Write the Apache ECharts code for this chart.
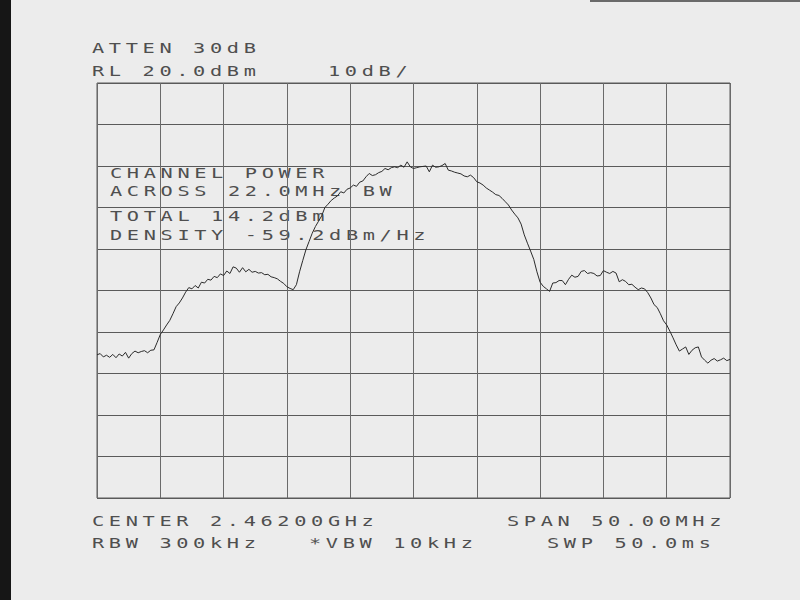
<!DOCTYPE html>
<html><head><meta charset="utf-8">
<script src="https://cdn.jsdelivr.net/npm/echarts@6/dist/echarts.min.js"></script>
<style>
html,body{margin:0;padding:0;background:#ececec;}
#chart{width:800px;height:600px;}
#chart text{letter-spacing:3.2px;}
</style></head><body><div id="chart"></div>
<script>
// Spectrum analyzer sweep: start 2437 MHz (center 2462 MHz, span 50 MHz), 0.25 MHz per point
const startMHz = 2437;
const spanMHz = 50;
const stepMHz = 0.25;
const refLevelDbm = 20;
const bottomDbm = -80;
const dbPerDiv = 10;
const mhzPerDiv = 5;
const levelsDbm = [
-45.5,-45.2,-46.0,-45.6,-46.1,-45.4,-46.2,-45.3,-45.8,-44.9,
-46.3,-45.2,-44.6,-45.0,-44.7,-44.5,-45.0,-44.4,-44.3,-42.5,
-40.6,-39.5,-38.3,-37.2,-35.6,-33.9,-33.0,-31.8,-30.4,-29.3,
-29.6,-28.8,-29.4,-28.0,-28.2,-27.3,-27.5,-26.6,-26.9,-26.0,
-26.4,-25.3,-25.9,-24.3,-24.6,-25.6,-24.5,-25.5,-24.9,-25.6,
-25.4,-25.8,-25.7,-26.2,-26.1,-26.7,-26.9,-27.2,-27.8,-28.3,
-29.1,-29.5,-29.8,-28.6,-25.5,-22.8,-20.2,-18.2,-16.2,-14.6,
-13.3,-12.0,-10.0,-9.2,-8.3,-7.7,-7.2,-6.2,-6.5,-5.6,
-5.3,-4.6,-4.9,-3.9,-3.6,-2.6,-1.8,-2.3,-2.1,-1.6,
-1.3,-0.6,-0.9,-0.4,-0.2,-0.4,0.2,-0.3,1.0,-0.2,
-0.6,-0.4,-0.2,-0.1,0.0,-1.4,0.2,-0.3,-0.2,0.1,
0.6,-1.0,-1.2,-1.5,-1.7,-1.9,-2.4,-2.6,-2.2,-2.8,
-3.8,-4.1,-4.6,-5.3,-5.8,-6.3,-6.9,-7.1,-7.8,-8.6,
-9.4,-10.6,-11.6,-12.5,-14.0,-16.6,-18.6,-20.5,-22.5,-25.5,
-28.0,-29.0,-29.6,-30.2,-28.2,-28.1,-27.6,-27.6,-28.6,-27.3,
-26.3,-26.8,-26.6,-25.4,-25.2,-25.9,-25.7,-25.9,-26.5,-26.4,
-25.2,-25.6,-25.9,-25.4,-25.8,-27.9,-27.4,-27.8,-28.6,-28.5,
-29.2,-29.8,-29.4,-29.6,-30.5,-31.8,-33.4,-34.1,-35.6,-37.3,
-38.3,-39.8,-41.4,-43.1,-44.6,-44.1,-43.6,-45.4,-44.4,-43.8,
-43.6,-46.0,-46.8,-47.5,-46.8,-46.4,-47.0,-46.7,-46.3,-46.9,-46.6
];
const headerLines = ['ATTEN 30dB', 'RL 20.0dBm', '10dB/'];
const channelLines = ['CHANNEL POWER', 'ACROSS 22.0MHz BW', 'TOTAL 14.2dBm', 'DENSITY -59.2dBm/Hz'];
const footerLines = ['CENTER 2.46200GHz', 'SPAN 50.00MHz', 'RBW 300kHz', '*VBW 10kHz', 'SWP 50.0ms'];

// x is frequency offset from start of sweep (MHz)
const seriesData = levelsDbm.map((v, i) => [i * stepMHz, v]);

const TXT = '#4f4f4f';
const FONT = '14px "DejaVu Sans Mono"';
function label(text, x, y) {
  return { type: 'text', x: x, y: y, scaleX: 1.45, silent: true,
    style: { text: text, fill: TXT, font: FONT, verticalAlign: 'middle', align: 'left' } };
}

const chart = echarts.init(document.getElementById('chart'), null, { renderer: 'svg' });
chart.setOption({
  animation: false,
  backgroundColor: '#ececec',
  grid: { left: 97, top: 83, width: 633, height: 415, show: true, borderColor: '#5a5a5a', borderWidth: 1, backgroundColor: 'transparent' },
  xAxis: { type: 'value', min: 0, max: spanMHz, interval: mhzPerDiv,
    axisLine: { show: false }, axisTick: { show: false }, axisLabel: { show: false },
    splitLine: { show: true, lineStyle: { color: '#6a6a6a', width: 1 } } },
  yAxis: { type: 'value', min: bottomDbm, max: refLevelDbm, interval: dbPerDiv,
    axisLine: { show: false }, axisTick: { show: false }, axisLabel: { show: false },
    splitLine: { show: true, lineStyle: { color: '#5a5a5a', width: 1 } } },
  series: [{ type: 'line', data: seriesData, showSymbol: false, symbol: 'none',
    lineStyle: { color: '#2b2b2b', width: 1 }, silent: true }],
  graphic: [
    { type: 'rect', shape: { x: 0, y: 0, width: 11, height: 600 }, style: { fill: '#161616' }, silent: true },
    { type: 'rect', shape: { x: 590, y: 0, width: 210, height: 2 }, style: { fill: '#6a6a6a' }, silent: true },
    label(headerLines[0], 92, 48),
    label(headerLines[1], 92, 71),
    label(headerLines[2], 328, 71),
    label(channelLines[0], 110, 173),
    label(channelLines[1], 110, 191.5),
    label(channelLines[2], 110, 216.5),
    label(channelLines[3], 110, 235.5),
    label(footerLines[0], 92, 521.5),
    label(footerLines[1], 507, 521.5),
    label(footerLines[2], 92, 543),
    label(footerLines[3], 309, 543),
    label(footerLines[4], 547, 543)
  ]
});
</script></body></html>
